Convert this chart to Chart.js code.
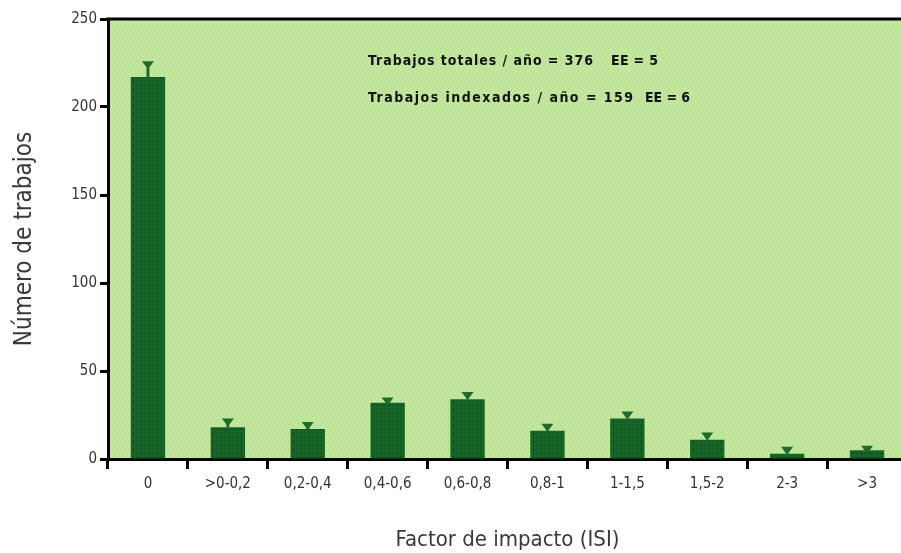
<!DOCTYPE html>
<html><head><meta charset="utf-8">
<script src="https://cdn.jsdelivr.net/npm/chart.js@4.4.1/dist/chart.umd.min.js"></script>
<style>
html,body{margin:0;padding:0;background:#fff;overflow:hidden;width:901px;height:553px;}
#wrap{width:915px;height:553px;position:relative;}
</style></head><body><div id="wrap"><canvas id="c"></canvas></div>
<script>
// Distribución de trabajos por factor de impacto (ISI)
const categories = ['0', '>0-0,2', '0,2-0,4', '0,4-0,6', '0,6-0,8', '0,8-1', '1-1,5', '1,5-2', '2-3', '>3'];
const trabajos = [217, 18, 17, 32, 34, 16, 23, 11, 3, 5];
const errores = [9, 5, 4, 3, 4, 4, 4, 4, 4, 2.5];
const yTicks = [0, 50, 100, 150, 200, 250];
const resumen = ['Trabajos totales / año = 376', 'Trabajos indexados / año = 159'];
const resumenEE = ['EE = 5', 'EE = 6'];

const FONT = '"DejaVu Sans Condensed", "Liberation Sans Narrow", "Liberation Sans", sans-serif';
const BAR = '#176529';
const ERR = '#1c6c2e';

// dotted fill for the bars
function barPattern() {
  const p = document.createElement('canvas');
  p.width = 4; p.height = 4;
  const g = p.getContext('2d');
  g.fillStyle = BAR; g.fillRect(0, 0, 4, 4);
  g.fillStyle = '#0a4414'; g.fillRect(1, 1, 1, 1);
  g.fillStyle = '#125520'; g.fillRect(0, 1, 1, 1); g.fillRect(1, 0, 1, 1);
  return g.createPattern(p, 'repeat');
}

// fine screen on the plot background
function bgPattern(ctx) {
  const p = document.createElement('canvas');
  p.width = 4; p.height = 4;
  const g = p.getContext('2d');
  g.fillStyle = '#c0e59b'; g.fillRect(0, 0, 4, 4);
  g.fillStyle = '#aedd8e'; g.fillRect(0, 0, 1, 1); g.fillRect(2, 2, 1, 1);
  g.fillStyle = '#cbeaa6'; g.fillRect(2, 0, 1, 1); g.fillRect(0, 2, 1, 1);
  return ctx.createPattern(p, 'repeat');
}

const plotBackground = {
  id: 'plotBackground',
  beforeDraw(chart) {
    const { ctx, chartArea: a } = chart;
    ctx.save();
    ctx.fillStyle = bgPattern(ctx);
    ctx.fillRect(a.left, a.top, a.right - a.left, a.bottom - a.top);
    ctx.restore();
  },
  afterDraw(chart) {
    const { ctx, chartArea: a } = chart;
    ctx.save();
    ctx.strokeStyle = '#000';
    ctx.lineWidth = 3;
    ctx.beginPath();
    ctx.moveTo(a.left - 1.5, a.top);
    ctx.lineTo(chart.width, a.top);
    ctx.stroke();
    ctx.restore();
  }
};

const errorBars = {
  id: 'errorBars',
  afterDatasetsDraw(chart) {
    const ctx = chart.ctx, y = chart.scales.y;
    const meta = chart.getDatasetMeta(0);
    ctx.save();
    ctx.strokeStyle = ERR; ctx.fillStyle = ERR; ctx.lineWidth = 3;
    meta.data.forEach((bar, i) => {
      const top = y.getPixelForValue(trabajos[i] + errores[i]);
      ctx.beginPath();
      ctx.moveTo(bar.x, bar.y);
      ctx.lineTo(bar.x, top + 2);
      ctx.stroke();
      ctx.beginPath();
      ctx.moveTo(bar.x - 6, top);
      ctx.lineTo(bar.x + 6, top);
      ctx.lineTo(bar.x + 1.5, top + 6);
      ctx.lineTo(bar.x - 1.5, top + 6);
      ctx.closePath();
      ctx.fill();
    });
    ctx.restore();
  }
};

// summary lines written inside the plot
const summary = {
  id: 'summary',
  afterDraw(chart) {
    const ctx = chart.ctx;
    const rows = [
      { y: 61, x1: 368, w1: 225, x2: 611, w2: 47 },
      { y: 98, x1: 368, w1: 265, x2: 645, w2: 45 }
    ];
    ctx.save();
    ctx.fillStyle = '#111';
    ctx.font = 'bold 14px ' + FONT;
    ctx.textBaseline = 'middle';
    const fit = (txt, x, y, w) => {
      ctx.letterSpacing = '0px';
      const n = ctx.measureText(txt).width;
      const sp = (w - n) / Math.max(1, txt.length - 1);
      ctx.letterSpacing = sp.toFixed(2) + 'px';
      ctx.fillText(txt, x, y);
    };
    rows.forEach((r, i) => {
      fit(resumen[i], r.x1, r.y, r.w1);
      fit(resumenEE[i], r.x2, r.y, r.w2);
    });
    ctx.restore();
  }
};

new Chart(document.getElementById('c'), {
  type: 'bar',
  data: {
    labels: categories,
    datasets: [{
      data: trabajos,
      backgroundColor: barPattern(),
      borderWidth: 0,
      barPercentage: 0.43,
      categoryPercentage: 1
    }]
  },
  options: {
    responsive: true,
    maintainAspectRatio: false,
    animation: false,
    layout: { padding: { top: 19, right: 8, bottom: 0, left: 0 } },
    plugins: { legend: { display: false }, tooltip: { enabled: false } },
    scales: {
      x: {
        grid: { offset: true, drawOnChartArea: false, drawTicks: true, tickLength: 10, tickWidth: 3, tickColor: '#000' },
        border: { display: true, width: 3, color: '#000' },
        ticks: { font: { family: FONT, size: 15 }, color: '#333', padding: 6, maxRotation: 0 },
        title: { display: true, text: 'Factor de impacto (ISI)', font: { family: FONT, size: 22 }, color: '#3a3a3a', padding: { top: 0, bottom: 0 } },
        afterFit(s) { s.height = 94; }
      },
      y: {
        min: 0, max: 250,
        afterBuildTicks(s) { s.ticks = yTicks.map(v => ({ value: v })); },
        grid: { drawOnChartArea: false, drawTicks: true, tickLength: 8, tickWidth: 3, tickColor: '#000' },
        border: { display: true, width: 3, color: '#000' },
        ticks: { font: { family: FONT, size: 15 }, color: '#333', padding: 3 },
        title: { display: true, text: 'Número de trabajos', font: { family: FONT, size: 24 }, color: '#3a3a3a', padding: { top: 10, bottom: 0 } },
        afterFit(s) { s.width = 108; }
      }
    }
  },
  plugins: [plotBackground, errorBars, summary]
});
</script>
</body></html>
